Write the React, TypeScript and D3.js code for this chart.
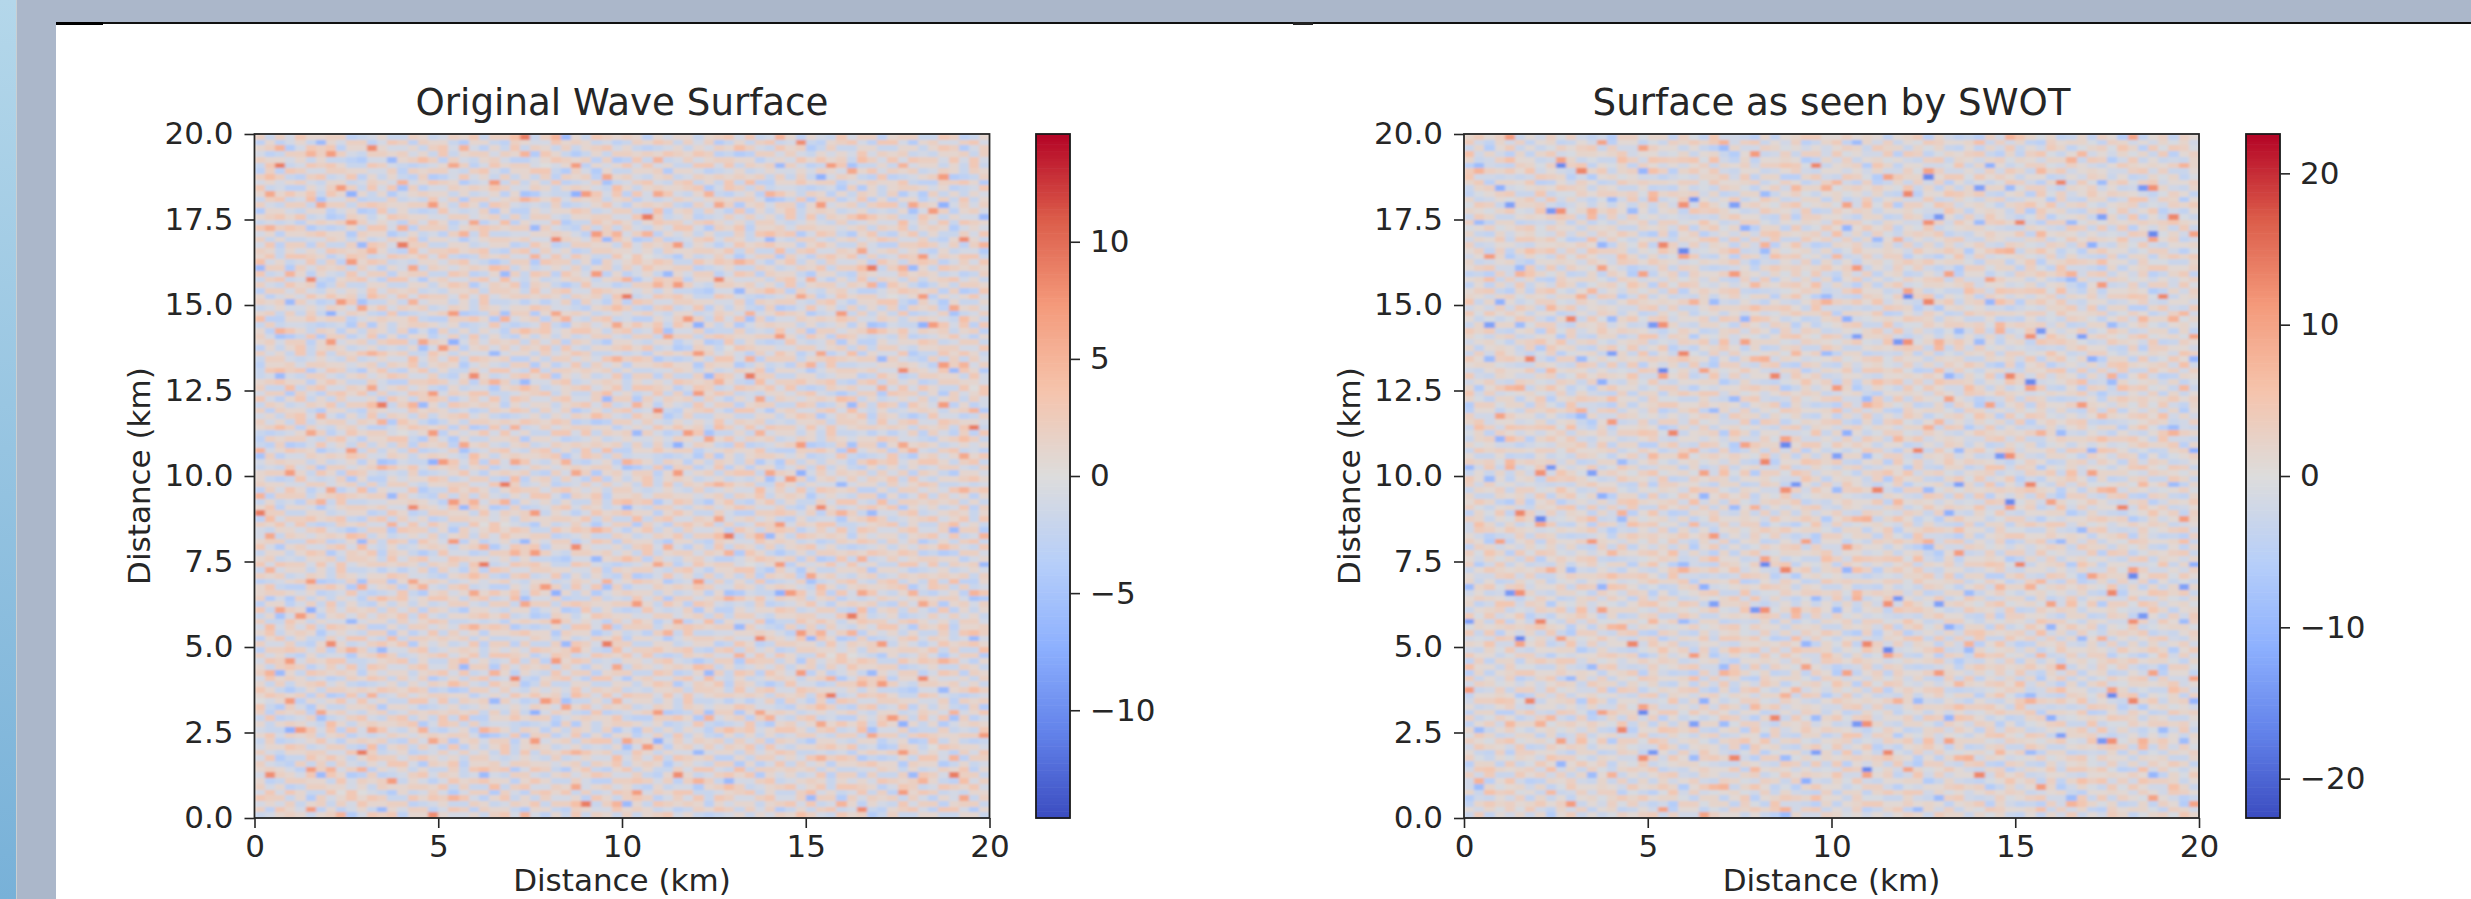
import React, { useEffect, useRef } from "react";
import * as d3 from "d3";

// axis values
const xTicks = [0, 5, 10, 15, 20];
const yTicks = [0, 2.5, 5, 7.5, 10, 12.5, 15, 17.5, 20];
const leftBarTicks = [-10, -5, 0, 5, 10];
const rightBarTicks = [-20, -10, 0, 10, 20];
const leftLimit = 14.6;
const rightLimit = 22.6;

// matplotlib coolwarm, sampled
const coolwarm = ["#3b4cc0", "#6282ea", "#8db0fe", "#b7cff9", "#dddcdc", "#f5c4ac", "#f49a7b", "#dc5d4a", "#b40426"];

// surface height read by eye from one patch of each panel (x 400, y 300 on the left, x 1700, y 500 on the right)
const leftPatch = [
  [2,-2,1,3,0,-1,2,1,-2,1,3,-1,-2,2,-3,1,2,-1,3,-2,1,2,-1,1],
  [-3,1,2,-1,1,3,-2,-4,1,2,-1,-3,2,1,-2,3,1,2,-2,-1,3,-2,1,-2],
  [1,2,-3,-1,3,1,2,-2,1,-2,2,1,-1,3,-2,-1,4,2,-1,2,1,-1,2,1],
  [-1,-3,5,-4,1,-2,1,2,-2,3,-1,2,3,-2,1,2,-6,-1,3,-4,2,1,-2,2],
  [2,1,-2,2,-1,3,-6,1,2,-3,1,3,-1,-4,2,-2,3,1,-2,2,-1,3,1,-1],
  [-2,3,1,-1,2,5,2,3,-1,2,-2,-1,2,5,-1,2,-2,4,1,-3,2,-1,2,-2],
  [-3,2,9,-2,1,-2,2,7,-3,1,2,-3,1,-2,3,-1,2,-4,-2,2,1,3,-2,1],
  [2,4,-3,3,-1,3,1,-2,2,-1,1,8,-1,3,-2,2,-3,1,2,-1,3,-1,1,-2],
  [-1,1,2,-2,2,-1,2,3,-2,-3,-2,2,1,-1,2,-3,1,-2,3,-2,-3,2,-1,2],
  [3,-2,-1,1,-3,2,-1,2,1,-2,-4,-1,2,1,-1,1,2,1,-1,2,1,-2,3,1],
  [1,6,-1,-3,2,-1,3,-2,2,1,-2,3,-1,-6,2,-1,-2,2,1,-2,1,3,2,-1],
  [-2,2,1,3,-3,1,-2,1,-1,3,1,-1,2,-1,1,2,1,-2,3,-1,-4,1,-2,2],
  [2,-1,3,-2,1,3,-1,2,1,-2,-3,1,-1,2,-2,-3,4,2,3,-2,5,-1,1,-2],
  [-4,1,-2,2,-1,4,-2,3,7,2,-1,2,-2,1,-3,2,-2,-1,-3,2,1,2,-3,1],
  [1,2,1,-1,2,-2,-5,-1,1,-7,-2,3,1,-1,-2,-3,1,2,1,6,-1,-2,2,-1],
  [-2,-1,3,1,-2,1,6,2,-1,2,1,-2,-1,3,5,-1,2,-4,2,-1,2,-3,1,2],
  [3,5,-2,-1,3,-2,1,-3,2,-2,-3,-2,1,-4,-5,2,1,3,-3,-1,-2,2,-1,3],
  [-1,1,2,3,-3,1,-1,-4,-1,1,2,3,-2,2,-1,1,-3,-1,2,1,3,-1,3,-1],
  [2,-2,-3,1,2,-4,2,1,-3,2,-4,-3,2,1,-2,-1,2,1,-1,2,-4,-2,1,-2],
  [-1,3,1,-2,1,2,-2,-3,2,7,1,-2,3,-2,1,2,-2,3,1,-2,1,2,-1,7],
];

const rightPatch = [
  [2,-4,1,3,-1,2,4,-3,1,-2,3,1,2,-3,3,1,-2,4,-4,1,2,-9,3,1],
  [-3,1,3,-2,2,4,-2,1,3,-4,1,-2,3,1,-2,-3,2,1,3,-2,-3,2,-1,4],
  [2,-2,-1,4,1,-3,2,-4,2,11,-3,2,-1,3,-5,4,1,-3,2,4,-2,1,3,-2],
  [-4,-5,2,1,3,6,-2,-6,1,-2,3,1,-2,2,4,-1,-3,2,4,-2,1,-3,2,1],
  [3,1,-2,5,-1,2,-3,2,-2,4,-3,-4,1,3,-1,2,4,-5,-1,2,-6,3,-2,1],
  [-2,3,4,-3,1,-5,-9,-2,3,-5,2,1,-3,2,-4,3,-2,1,2,5,-2,1,4,-3],
  [4,-1,2,1,-3,4,8,-2,-3,6,1,-4,2,-1,3,-3,1,-4,-2,2,-1,3,-2,7],
  [-2,1,-3,4,2,5,-2,3,2,-4,3,1,-3,4,-2,1,3,-2,10,-6,3,-4,2,-1],
  [1,3,2,-1,-4,2,4,-2,-3,4,1,2,-1,-2,10,-1,2,4,-3,-5,1,3,-1,2],
  [-3,-4,3,-5,1,-3,2,-5,2,-2,-3,5,-2,3,-16,2,-3,2,1,3,-2,1,-4,2],
  [2,1,4,-2,3,-4,-1,3,-11,2,1,-2,4,1,-2,3,5,-1,-3,2,4,-2,10,-1],
  [-4,2,-1,5,1,2,-3,1,3,-2,-1,4,-5,3,2,-3,13,-4,1,-3,6,-2,1,3],
  [1,-3,2,-2,3,-1,4,-2,1,4,-3,1,2,-4,1,-5,-2,2,4,-1,2,3,-2,1],
  [8,2,-1,3,-3,2,1,3,-3,-1,2,-3,5,1,4,-2,3,-6,1,-3,2,-4,3,5],
  [3,-2,2,7,1,-3,4,-1,2,-13,2,4,-2,-3,-1,3,2,1,-4,2,-1,3,-10,1],
  [-2,4,-4,1,-2,3,-9,2,-3,4,-1,2,3,5,-2,-1,3,-3,2,-3,4,1,-2,6],
  [1,-3,2,-5,3,-1,1,-4,2,-3,1,-2,5,-2,-4,2,-2,1,3,1,-3,2,3,-2],
  [-3,13,-2,3,-5,2,-3,3,-1,2,-4,2,1,-14,12,-2,1,-4,-1,3,2,-3,1,2],
  [2,-4,-1,4,1,-2,2,-4,2,1,3,-3,-2,3,4,-1,2,-3,1,-9,-2,3,-1,-4],
  [-2,3,-6,1,5,3,-3,1,4,-2,1,4,-1,-3,2,3,-3,8,2,-3,1,4,-3,7],
];

const font = "'DejaVu Sans', sans-serif";
const ink = "#262626";
const top = 134;
const bottom = 818;
const plotW = 735;
const barW = 34;
const cols = 144;
const rows = 120;
const fontSize = 31;

const makeColor = (limit: number) =>
  d3
    .scaleLinear<string>()
    .domain(coolwarm.map((_, i) => -limit + (2 * limit * i) / (coolwarm.length - 1)))
    .range(coolwarm)
    .interpolate(d3.interpolateRgb);

// the hand-read patch is far smaller than the panel, so it repeats, mirrored and shifted to hide the seams.
// one patch column spans two drawn columns, and the row lookup slides with c so the blobs lean up to the right
const patchValue = (patch: number[][], r: number, c: number, offset: number) => {
  const h = patch.length;
  const w = patch[0].length;
  const sheared = r + Math.floor(c / 4);
  const tileRow = Math.floor(sheared / h);
  const cc = Math.floor(c / 2) + tileRow * 7 + offset;
  const tileCol = Math.floor(cc / w);
  const rr = tileCol % 2 ? h - 1 - (sheared % h) : sheared % h;
  const ci = tileRow % 2 ? w - 1 - (cc % w) : cc % w;
  return patch[rr][ci];
};

const Panel = ({ title, patch, limit, barTicks, left, barLeft, labelX, offset }) => {
  const axesRef = useRef<SVGGElement>(null);
  const color = makeColor(limit);
  const x = d3.scaleLinear().domain([0, 20]).range([left, left + plotW]);
  const y = d3.scaleLinear().domain([0, 20]).range([bottom, top]);
  const barY = d3.scaleLinear().domain([-limit, limit]).range([bottom, top]);
  const colBand = d3.scaleBand<number>().domain(d3.range(cols)).range([left, left + plotW]);
  const rowBand = d3.scaleBand<number>().domain(d3.range(rows)).range([top, bottom]);
  const barSteps = d3.range(-limit, limit, (2 * limit) / 200);

  useEffect(() => {
    const g = d3.select(axesRef.current);
    g.selectAll("*").remove();
    const style = (sel) => {
      sel.selectAll("text").attr("font-family", font).attr("font-size", fontSize).attr("fill", ink);
      sel.selectAll("line").attr("stroke", ink).attr("stroke-width", 1.6);
      sel.select(".domain").remove();
    };
    g.append("g")
      .attr("transform", `translate(0,${bottom})`)
      .call(d3.axisBottom(x).tickValues(xTicks).tickFormat(d3.format("d")).tickSize(10).tickPadding(7))
      .call(style);
    g.append("g")
      .attr("transform", `translate(${left},0)`)
      .call(d3.axisLeft(y).tickValues(yTicks).tickFormat(d3.format(".1f")).tickSize(10).tickPadding(11))
      .call(style);
    g.append("g")
      .attr("transform", `translate(${barLeft + barW},0)`)
      .call(d3.axisRight(barY).tickValues(barTicks).tickFormat((d) => String(d).replace("-", "\u2212")).tickSize(10).tickPadding(10))
      .call(style);
  }, []);

  return (
    <g>
      <g filter="url(#soft)" shapeRendering="crispEdges">
        {d3.range(rows).map((r) =>
          d3.range(cols).map((c) => (
            <rect
              key={`${r}-${c}`}
              x={colBand(c)}
              y={rowBand(r)}
              width={colBand.bandwidth() + 0.5}
              height={rowBand.bandwidth() + 0.5}
              fill={color(patchValue(patch, r, c, offset))}
            />
          ))
        )}
      </g>
      <rect x={left} y={top} width={plotW} height={bottom - top} fill="none" stroke={ink} strokeWidth={1.8} />
      {barSteps.map((v) => (
        <rect
          key={v}
          x={barLeft}
          y={barY(v + (2 * limit) / 200)}
          width={barW}
          height={(bottom - top) / 200 + 0.6}
          fill={color(v + limit / 200)}
        />
      ))}
      <rect x={barLeft} y={top} width={barW} height={bottom - top} fill="none" stroke="#1a1a1a" strokeWidth={1.8} />
      <g ref={axesRef} />
      <text x={left + plotW / 2} y={115} textAnchor="middle" fontFamily={font} fontSize={37.2} fill={ink}>
        {title}
      </text>
      <text x={left + plotW / 2} y={891} textAnchor="middle" fontFamily={font} fontSize={fontSize} fill={ink}>
        Distance (km)
      </text>
      <text
        transform={`translate(${labelX},${(top + bottom) / 2}) rotate(-90)`}
        textAnchor="middle"
        fontFamily={font}
        fontSize={fontSize}
        fill={ink}
      >
        Distance (km)
      </text>
    </g>
  );
};

export default function App() {
  return (
    <svg width={2471} height={899} style={{ position: "absolute", left: 0, top: 0, display: "block" }}>
      <defs>
        <linearGradient id="strip" x1="0" y1="0" x2="0" y2="1">
          <stop offset="0" stopColor="#b4d7ea" />
          <stop offset="1" stopColor="#78b1d8" />
        </linearGradient>
        <filter id="soft" x="0" y="0" width="100%" height="100%">
          <feGaussianBlur stdDeviation="1.5 1" />
        </filter>
      </defs>
      <rect width={2471} height={899} fill="#ffffff" />
      <rect width={2471} height={23} fill="#abb7ca" />
      <rect y={0} width={56} height={899} fill="#abb7ca" />
      <rect width={16} height={899} fill="url(#strip)" />
      <rect x={16} width={1} height={899} fill="#c9cfd2" />
      <rect x={56} y={22} width={2415} height={2} fill="#111111" />
      <rect x={56} y={22} width={47} height={3} fill="#000000" />
      <rect x={1293} y={22} width={20} height={3} fill="#222222" />
      <Panel
        title="Original Wave Surface"
        patch={leftPatch}
        limit={leftLimit}
        barTicks={leftBarTicks}
        left={254.5}
        barLeft={1036}
        labelX={150}
        offset={0}
      />
      <Panel
        title="Surface as seen by SWOT"
        patch={rightPatch}
        limit={rightLimit}
        barTicks={rightBarTicks}
        left={1464}
        barLeft={2246}
        labelX={1360}
        offset={5}
      />
    </svg>
  );
}
